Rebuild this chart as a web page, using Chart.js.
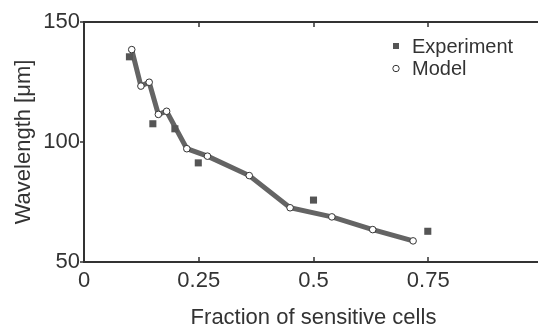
<!DOCTYPE html>
<html>
<head>
<meta charset="utf-8">
<script src="https://cdn.jsdelivr.net/npm/chart.js@4.4.0/dist/chart.umd.min.js"></script>
<style>
  html, body { margin: 0; padding: 0; background: #fff; overflow: hidden; }
  #wrap { width: 538px; height: 328px; overflow: hidden; }
</style>
</head>
<body>
<div id="wrap"><canvas id="chart" width="560" height="328"></canvas></div>
<script>
// data
const expFraction = [0.099, 0.150, 0.198, 0.249, 0.500, 0.749];
const expWavelength = [135.5, 107.6, 105.5, 91.3, 75.8, 62.8];
const modelFraction = [0.104, 0.124, 0.142, 0.162, 0.180, 0.224, 0.269, 0.360, 0.449, 0.540, 0.629, 0.717];
const modelWavelength = [138.5, 123.3, 124.9, 111.5, 112.8, 97.2, 94.1, 86.0, 72.6, 68.8, 63.5, 58.8];
const xTickLabels = ['0', '0.25', '0.5', '0.75', '1'];
const yTickLabels = ['50', '100', '150'];

const FONT = "'Liberation Sans', Arial, Helvetica, sans-serif";
const INK = '#333';

Chart.defaults.font.family = FONT;
Chart.defaults.color = INK;

// small matlab style tick marks on the box
const boxTicks = {
  id: 'boxTicks',
  afterDraw(chart) {
    const c = chart.ctx;
    const a = chart.chartArea;
    const xs = chart.scales.x, ys = chart.scales.y;
    c.save();
    c.strokeStyle = INK;
    c.lineWidth = 1.5;
    c.beginPath();
    xs.ticks.forEach(t => {
      const px = Math.round(xs.getPixelForValue(t.value));
      c.moveTo(px, a.bottom); c.lineTo(px, a.bottom - 5);
      c.moveTo(px, a.top); c.lineTo(px, a.top + 5);
    });
    ys.ticks.forEach(t => {
      const py = Math.round(ys.getPixelForValue(t.value));
      c.moveTo(a.left - 4, py); c.lineTo(a.left, py);
      c.moveTo(a.right, py); c.lineTo(a.right - 5, py);
    });
    c.stroke();
    c.restore();
  }
};

// legend drawn inside the plot, top right
const innerLegend = {
  id: 'innerLegend',
  afterDraw(chart) {
    const c = chart.ctx;
    const ds = chart.data.datasets;
    c.save();
    c.font = '20px ' + FONT;
    c.textBaseline = 'middle';
    const x0 = 396, y0 = 46, gap = 22.5;
    ds.forEach((d, i) => {
      const y = y0 + i * gap;
      if (d.pointStyle === 'rect') {
        c.fillStyle = d.pointBackgroundColor;
        c.fillRect(x0 - 3, y - 3, 6, 6);
      } else {
        c.beginPath();
        c.arc(x0, y, 3.2, 0, Math.PI * 2);
        c.fillStyle = '#fff';
        c.fill();
        c.lineWidth = 1;
        c.strokeStyle = INK;
        c.stroke();
      }
      c.fillStyle = INK;
      c.fillText(d.label, 412, y + 1);
    });
    c.restore();
  }
};

const ctx = document.getElementById('chart').getContext('2d');
const chart = new Chart(ctx, {
  type: 'scatter',
  data: {
    datasets: [{
      label: 'Experiment',
      data: expFraction.map((x, i) => ({ x: x, y: expWavelength[i] })),
      pointStyle: 'rect',
      pointRadius: 5,
      pointBackgroundColor: '#555',
      pointBorderWidth: 0,
      showLine: false,
      order: 0
    }, {
      label: 'Model',
      data: modelFraction.map((x, i) => ({ x: x, y: modelWavelength[i] })),
      showLine: true,
      borderColor: '#646464',
      borderWidth: 5,
      pointStyle: 'circle',
      pointRadius: 3.3,
      pointBackgroundColor: '#fff',
      pointBorderColor: '#333',
      pointBorderWidth: 1,
      order: 1
    }]
  },
  options: {
    responsive: false,
    animation: false,
    layout: { padding: { top: 22, right: 17, left: 0, bottom: 0 } },
    plugins: { legend: { display: false }, tooltip: { enabled: false } },
    scales: {
      x: {
        type: 'linear', position: 'bottom', min: 0, max: 1,
        afterFit: s => { s.height = 66; },
        border: { color: INK, width: 2 },
        grid: { display: false, drawTicks: false },
        ticks: {
          stepSize: 0.25, padding: 6, maxRotation: 0,
          font: { size: 22 },
          callback: (v, i) => xTickLabels[i]
        },
        title: {
          display: true, text: 'Fraction of sensitive cells',
          font: { size: 22 }, padding: { top: 0, bottom: -3 }
        }
      },
      x2: {
        type: 'linear', position: 'top', min: 0, max: 1,
        afterFit: s => { s.height = 0; },
        border: { color: INK, width: 2 },
        grid: { display: false, drawTicks: false },
        ticks: { display: false }
      },
      y: {
        type: 'linear', position: 'left', min: 50, max: 150,
        afterFit: s => { s.width = 84; },
        border: { color: INK, width: 2 },
        grid: { display: false, drawTicks: false },
        ticks: {
          stepSize: 50, padding: 4,
          font: { size: 22 },
          callback: (v, i) => yTickLabels[i]
        },
        title: {
          display: true, text: 'Wavelength [μm]',
          font: { size: 22 }, padding: { top: 11, bottom: 0 }
        }
      },
      y2: {
        type: 'linear', position: 'right', min: 50, max: 150,
        afterFit: s => { s.width = 0; },
        border: { color: INK, width: 2 },
        grid: { display: false, drawTicks: false },
        ticks: { display: false }
      }
    }
  },
  plugins: [boxTicks, innerLegend]
});
</script>
</body>
</html>
